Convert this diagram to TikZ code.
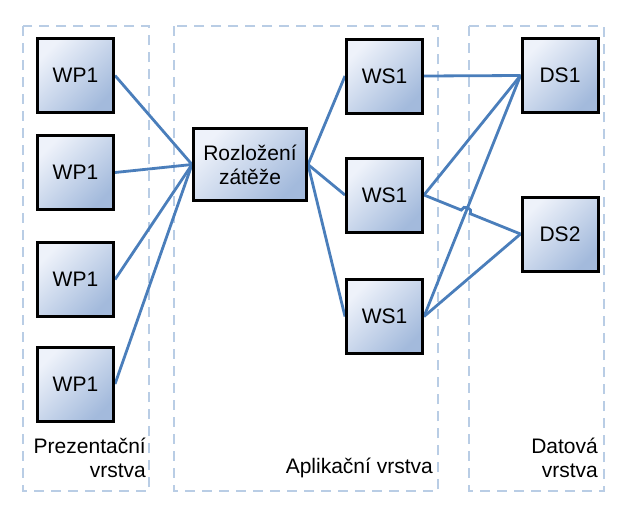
\documentclass[tikz,border=0pt]{standalone}
\usepackage{fontspec}
\setmainfont{Liberation Sans}
\usetikzlibrary{calc}
\definecolor{lineblue}{HTML}{4A7EBB}
\definecolor{dashblue}{HTML}{B9CDE5}
\definecolor{boxlight}{HTML}{EEF2FA}
\definecolor{boxdark}{HTML}{A3BADC}
\pgfdeclarelayer{bg}
\pgfsetlayers{bg,main}
\begin{document}
\begin{tikzpicture}[x=1pt,y=-1pt,
  srv/.style={draw=black, line width=3pt, minimum width=76pt, minimum height=74pt,
    top color=boxlight, bottom color=boxdark, shading angle=45,
    font=\fontsize{21}{24}\selectfont, inner sep=0pt, align=center},
  layer/.style={draw=dashblue, line width=2pt, dash pattern=on 10pt off 7pt},
  conn/.style={draw=lineblue, line width=2.8pt},
  lbl/.style={font=\fontsize{21}{24}\selectfont, align=right, inner sep=0pt, anchor=south east}]
\useasboundingbox (0,0) rectangle (626,509);
% nodes
\node[srv] (wp1) at (75.5,75.5) {WP1};
\node[srv] (wp2) at (75.5,172.5) {WP1};
\node[srv] (wp3) at (75.5,279.5) {WP1};
\node[srv] (wp4) at (75.5,384) {WP1};
\node[srv, minimum width=113pt, minimum height=72pt] (lb) at (250,164.5) {Rozložení\\zátěže};
\node[srv] (ws1) at (384.5,76) {WS1};
\node[srv] (ws2) at (384.5,195) {WS1};
\node[srv] (ws3) at (384.5,316.5) {WS1};
\node[srv] (ds1) at (560,75.5) {DS1};
\node[srv] (ds2) at (560,234) {DS2};
% labels
\node[lbl] (l1) at (146,478) {Prezentační\\vrstva};
\node[lbl] (l2) at (433,478) {Aplikační vrstva};
\node[lbl] (l3) at (598,478) {Datová\\vrstva};
\begin{pgfonlayer}{bg}
\fill[white] (0,0) rectangle (626,509);
% layers
\draw[layer] (23,26) rectangle (149,491);
\draw[layer] (174,26) rectangle (438,491);
\draw[layer] (469,26) rectangle (604,491);
% connectors
\foreach \w in {wp1,wp2,wp3,wp4} \draw[conn] (\w.east) -- (lb.west);
\foreach \w in {ws1,ws2,ws3} \draw[conn] (lb.east) -- (\w.west);
\draw[conn] (ws1.east) -- (ds1.west);
\draw[conn] (ws2.east) -- (ds1.west);
\draw[conn] (ws3.east) -- (ds1.west);
\draw[conn] (ws3.east) -- (ds2.west);
\path (intersection of ws2.east--ds2.west and ws3.east--ds1.west) coordinate (X);
\draw[conn] (ws2.east) -- ($(X)!5pt!(ws2.east)$) to[bend left=90, looseness=1.6] ($(X)!5pt!(ds2.west)$) -- (ds2.west);
\end{pgfonlayer}
\end{tikzpicture}
\end{document}
